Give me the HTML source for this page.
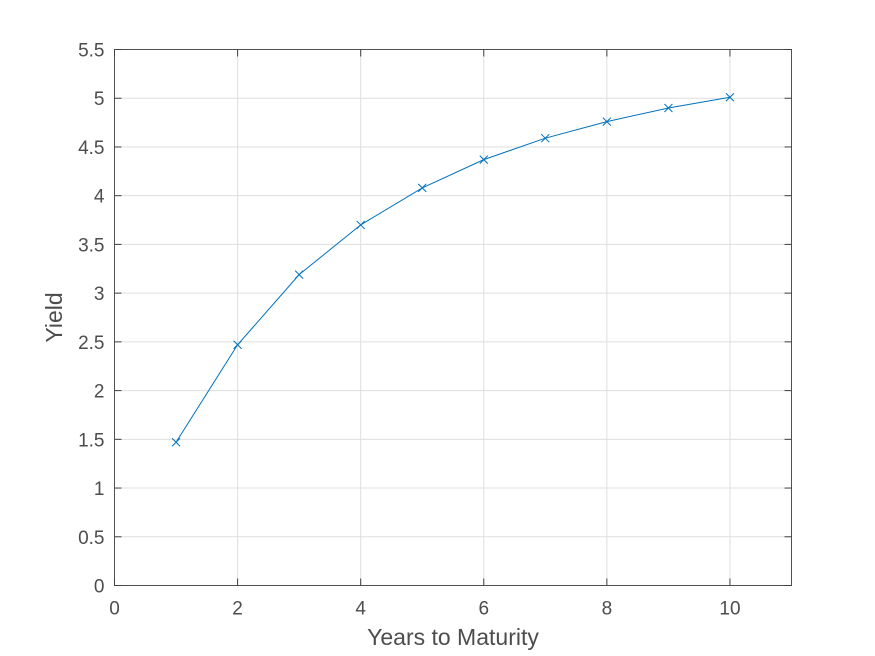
<!DOCTYPE html>
<html><head><meta charset="utf-8"><style>
html,body{margin:0;padding:0;background:#fff;}
svg{display:block;font-family:"Liberation Sans",Arial,sans-serif;}
</style></head><body>
<svg id="chart" width="875" height="656" viewBox="0 0 875 656"></svg>
<script>
const years = [1,2,3,4,5,6,7,8,9,10];
const yields = [1.47,2.47,3.19,3.70,4.08,4.37,4.59,4.76,4.90,5.01];
const xTicks = [0,2,4,6,8,10];
const yTicks = [0,0.5,1,1.5,2,2.5,3,3.5,4,4.5,5,5.5];
const xMin=0,xMax=11,yMin=0,yMax=5.5;
const L=114.5,R=791.5,T=49.5,B=585.5;
const sx=v=>L+(v-xMin)/(xMax-xMin)*(R-L);
const sy=v=>B-(v-yMin)/(yMax-yMin)*(B-T);
const svg=document.getElementById('chart');
const NS='http://www.w3.org/2000/svg';
function mk(tag,attrs,parent){const e=document.createElementNS(NS,tag);for(const k in attrs)e.setAttribute(k,attrs[k]);(parent||svg).appendChild(e);return e;}
const grid=mk('g',{});


xTicks.forEach(t=>{ if(t>xMin&&t<xMax) mk('line',{x1:sx(t),x2:sx(t),y1:T,y2:B,stroke:'#dfdfdf','stroke-width':1},grid);});
yTicks.forEach(t=>{ if(t>yMin&&t<yMax) mk('line',{x1:L,x2:R,y1:sy(t),y2:sy(t),stroke:'#dfdfdf','stroke-width':1},grid);});
const axes=mk('g',{});


mk('rect',{x:L,y:T,width:R-L,height:B-T,fill:'none',stroke:'#262626','stroke-width':1,'stroke-opacity':0.8},axes);
xTicks.forEach(t=>{
  const x=sx(t);
  mk('line',{x1:x,x2:x,y1:B,y2:B-7,stroke:'#404040'},axes);
  mk('line',{x1:x,x2:x,y1:T,y2:T+7,stroke:'#404040'},axes);
  const tx=mk('text',{x:x,y:B+29,'text-anchor':'middle','font-size':19,fill:'#4d4d4d'},axes);
  
  
  tx.textContent=t;
});
yTicks.forEach(t=>{
  const y=sy(t);
  mk('line',{x1:L,x2:L+7,y1:y,y2:y,stroke:'#404040'},axes);
  mk('line',{x1:R,x2:R-7,y1:y,y2:y,stroke:'#404040'},axes);
  const tx=mk('text',{x:L-10,y:y+7,'text-anchor':'end','font-size':19,fill:'#4d4d4d'},axes);
  
  
  tx.textContent=t;
});
const xl=mk('text',{x:(L+R)/2,y:645,'text-anchor':'middle','font-size':23,fill:'#4d4d4d'});


xl.textContent='Years to Maturity';
const yl=mk('text',{x:0,y:0,'text-anchor':'middle','font-size':23,fill:'#4d4d4d',transform:`translate(62,${(T+B)/2}) rotate(-90)`});


yl.textContent='Yield';
const pts=years.map((v,i)=>sx(v)+','+sy(yields[i])).join(' ');
const line=mk('polyline',{points:pts,fill:'none',stroke:'#0072bd','stroke-width':1});


years.forEach((v,i)=>{
  const x=sx(v),y=sy(yields[i]),d=4;
  const m=mk('path',{d:`M${x-d},${y-d}L${x+d},${y+d}M${x-d},${y+d}L${x+d},${y-d}`,stroke:'#0072bd','stroke-width':1,fill:'none'});
  
  
});
</script>
</body></html>
